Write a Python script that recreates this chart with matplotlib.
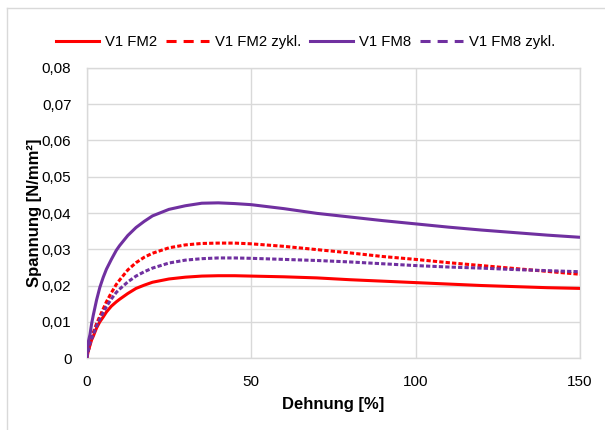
#!/usr/bin/env python3
"""
Spannung-Dehnung curves, V1 FM2 / FM8, monotonic vs. cyclic loading.
"""

import matplotlib
matplotlib.use("Agg")
import matplotlib.pyplot as plt
import matplotlib.ticker as ticker
from matplotlib.lines import Line2D


# ── measured data (Dehnung in %, Spannung in N/mm²) ──────────────────────────
dehnung = [0, 0.5, 1, 1.5, 2, 3, 4, 5, 6, 7.5, 9, 10, 12.5, 15, 17.5, 20,
           25, 30, 35, 40, 45, 50, 60, 70, 80, 90, 100, 110, 120, 130, 140, 150]

fm2 = [0, 0.0020, 0.0035, 0.0050, 0.0060, 0.0083, 0.0100, 0.0113, 0.0127,
       0.0143, 0.0155, 0.0162, 0.0178, 0.0192, 0.0201, 0.0209,
       0.0218, 0.0223, 0.0226, 0.0227, 0.0227, 0.0226,
       0.0224, 0.0221, 0.0216, 0.0212, 0.0208, 0.0204, 0.0200, 0.0197,
       0.0194, 0.0192]

fm2_zykl = [0, 0.0020, 0.0040, 0.0055, 0.0070, 0.0095, 0.0115, 0.0135,
            0.0155, 0.0180, 0.0203, 0.0215, 0.0243, 0.0263, 0.0278, 0.0289,
            0.0304, 0.0312, 0.0316, 0.0317, 0.0317, 0.0315,
            0.0308, 0.0299, 0.0290, 0.0280, 0.0272, 0.0263, 0.0255,
            0.0247, 0.0239, 0.0231]

fm8 = [0, 0.0045, 0.0065, 0.0095, 0.0118, 0.0160, 0.0195, 0.0222, 0.0245,
       0.0272, 0.0297, 0.0310, 0.0338, 0.0360, 0.0377, 0.0392,
       0.0410, 0.0420, 0.0427, 0.0428, 0.0426, 0.0423,
       0.0412, 0.0399, 0.0389, 0.0379, 0.0370, 0.0361, 0.0353, 0.0346,
       0.0339, 0.0333]

fm8_zykl = [0, 0.0020, 0.0040, 0.0053, 0.0065, 0.0088, 0.0108, 0.0125,
            0.0142, 0.0163, 0.0181, 0.0190, 0.0210, 0.0226, 0.0238, 0.0248,
            0.0262, 0.0270, 0.0274, 0.0276, 0.0276, 0.0275,
            0.0272, 0.0269, 0.0265, 0.0260, 0.0255, 0.0251, 0.0248,
            0.0244, 0.0241, 0.0238]

labels = ["V1 FM2", "V1 FM2 zykl.", "V1 FM8", "V1 FM8 zykl."]

RED = "#FF0000"
PURPLE = "#7030A0"
GRID = "#D9D9D9"
LW = 2.2


def fmt_comma(v, _):
    if abs(v) < 1e-9:
        return "0"
    return f"{v:.2f}".replace(".", ",")


def main() -> None:
    plt.rcParams["font.family"] = ["Liberation Sans", "DejaVu Sans"]

    fig = plt.figure(figsize=(6.05, 4.30), dpi=100)
    ax = fig.add_axes([0.1433, 0.1674, 0.8154, 0.6745])

    series = [
        (fm2, RED, "-"),
        (fm2_zykl, RED, (0, (1.4, 0.7))),
        (fm8, PURPLE, "-"),
        (fm8_zykl, PURPLE, (0, (1.4, 0.7))),
    ]
    for ys, color, ls in series:
        ax.plot(dehnung, ys, color=color, linestyle=ls, linewidth=LW,
                solid_capstyle="butt", zorder=3)

    ax.set_xlim(0, 150)
    ax.set_ylim(0, 0.08)
    ax.xaxis.set_major_locator(ticker.MultipleLocator(50))
    ax.yaxis.set_major_locator(ticker.MultipleLocator(0.01))
    ax.yaxis.set_major_formatter(ticker.FuncFormatter(fmt_comma))
    ax.grid(True, color=GRID, linewidth=1.0, zorder=0)
    ax.set_axisbelow(True)
    for sp in ax.spines.values():
        sp.set_color(GRID)
        sp.set_linewidth(1.0)
    ax.tick_params(length=0, labelsize=11, colors="#000000")
    ax.tick_params(axis="y", pad=11)
    ax.tick_params(axis="x", pad=12)

    ax.set_xlabel("Dehnung [%]", fontsize=12, fontweight="bold", labelpad=6)
    ax.set_ylabel("Spannung [N/mm²]", fontsize=12, fontweight="bold",
                  labelpad=0)

    # legend handles with longer dashes than the curves
    handles = [
        Line2D([], [], color=RED, linewidth=LW),
        Line2D([], [], color=RED, linewidth=LW, linestyle=(0, (3.3, 2.3))),
        Line2D([], [], color=PURPLE, linewidth=LW),
        Line2D([], [], color=PURPLE, linewidth=LW, linestyle=(0, (3.3, 2.3))),
    ]
    fig.legend(handles, labels, loc="center", bbox_to_anchor=(0.505, 0.902),
               ncol=4, frameon=False, fontsize=10.7, handlelength=2.9,
               handletextpad=0.4, columnspacing=0.6)

    # chart frame (left and top edges)
    fig.add_artist(Line2D([7 / 605, 7 / 605], [0, 1 - 8 / 430],
                          transform=fig.transFigure, color=GRID, linewidth=1))
    fig.add_artist(Line2D([7 / 605, 1], [1 - 8 / 430, 1 - 8 / 430],
                          transform=fig.transFigure, color=GRID, linewidth=1))

    fig.savefig("out.png", dpi=100)


if __name__ == "__main__":
    main()
